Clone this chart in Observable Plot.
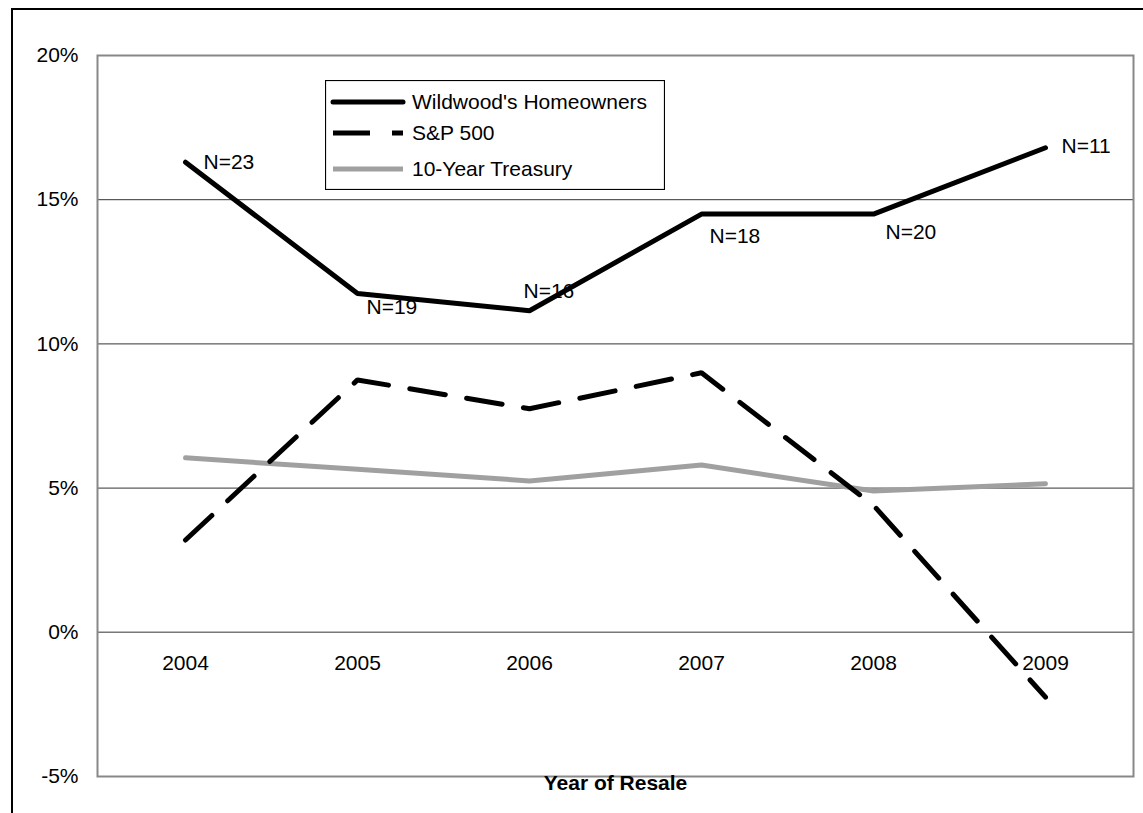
<!DOCTYPE html>
<html><head><meta charset="utf-8">
<script src="https://cdn.jsdelivr.net/npm/d3@7"></script>
<script src="https://cdn.jsdelivr.net/npm/@observablehq/plot@0.6"></script>
<style>
html,body{margin:0;padding:0;background:#fff;overflow:hidden;width:1143px;height:813px;}
#wrap{position:relative;width:1143px;height:813px;background:#fff;font-family:"Liberation Sans",Arial,sans-serif;}
#frame{position:absolute;left:11px;top:8px;width:1200px;height:900px;border:2.5px solid #000;box-sizing:border-box;}
#chart{position:absolute;left:0;top:0;}
#legend{position:absolute;left:325px;top:80px;width:340px;height:110px;}
</style></head><body>
<div id="wrap"><div id="frame"></div><div id="chart"></div><div id="legend"></div></div>
<script>
const years = ["2004","2005","2006","2007","2008","2009"];
const wildwood = [16.3, 11.75, 11.15, 14.5, 14.5, 16.8];
const sp500 = [3.2, 8.75, 7.75, 9.0, 4.4, -2.25];
const treasury = [6.05, 5.65, 5.25, 5.8, 4.9, 5.15];
const sampleSizes = ["N=23","N=19","N=16","N=18","N=20","N=11"];
const yTicks = [-5, 0, 5, 10, 15, 20];
const seriesNames = ["Wildwood's Homeowners", "S&P 500", "10-Year Treasury"];

// layout only: label offsets (px) relative to each Wildwood point
const labelOffsets = [[18,0],[9,14],[-6,-19],[8,22],[12,18],[16,-2]];

const toRows = vals => years.map((yr, i) => ({year: yr, value: vals[i], i}));
const wRows = toRows(wildwood), sRows = toRows(sp500), tRows = toRows(treasury);

const FS = 21;
const labelMarks = wRows.map((r, i) => Plot.text([r], {
  x: "year", y: "value", text: d => sampleSizes[d.i],
  textAnchor: "start", dx: labelOffsets[i][0], dy: labelOffsets[i][1],
  fontSize: FS, fill: "#000"
}));

const chart = Plot.plot({
  width: 1143, height: 813,
  marginLeft: 97, marginRight: 10, marginTop: 55, marginBottom: 37,
  style: {fontFamily: "'Liberation Sans', Arial, sans-serif", fontSize: FS + "px", background: "transparent", color: "#000"},
  x: {type: "point", domain: years, padding: 0.5, axis: null},
  y: {domain: [-5, 20], label: null},
  marks: [
    Plot.ruleY([5, 10, 15], {stroke: "#333", strokeWidth: 1}),
    Plot.ruleY([0], {stroke: "#777", strokeWidth: 1.5}),
    Plot.frame({stroke: "#888", strokeWidth: 2}),
    Plot.axisY(yTicks, {tickFormat: d => d + "%", tickSize: 0, tickPadding: 19, fontSize: FS, fill: "#000", label: null}),
    Plot.text(years, {x: d => d, y: () => 0, dy: 31, fontSize: FS, fill: "#000"}),
    Plot.text(["Year of Resale"], {frameAnchor: "bottom", dy: 13, fontSize: 21, fontWeight: "bold", fill: "#000", letterSpacing: "0.6px"}),
    Plot.line(tRows, {x: "year", y: "value", stroke: "#a0a0a0", strokeWidth: 5, strokeLinejoin: "miter"}),
    Plot.line(sRows, {x: "year", y: "value", stroke: "#000", strokeWidth: 5, strokeDasharray: "36,21.6", strokeLinejoin: "miter"}),
    Plot.line(wRows, {x: "year", y: "value", stroke: "#000", strokeWidth: 5, strokeLinejoin: "miter", strokeLinecap: "round"}),
    ...labelMarks
  ]
});
document.getElementById("chart").append(chart);

// legend
const LW = 340, LH = 110;
const lg = d3.select("#legend").append("svg").attr("width", LW).attr("height", LH)
  .style("font-family", "'Liberation Sans', Arial, sans-serif");
lg.append("rect").attr("x", 0.5).attr("y", 0.5).attr("width", LW - 1).attr("height", LH - 1)
  .attr("fill", "#fff").attr("stroke", "#000").attr("stroke-width", 1.2);
const styles = [
  {stroke: "#000", dash: null, cap: "round"},
  {stroke: "#000", dash: "37,22", cap: "butt"},
  {stroke: "#a0a0a0", dash: null, cap: "butt"}
];
const rowsY = [22, 53, 89];
seriesNames.forEach((name, i) => {
  const l = lg.append("line").attr("x1", 8).attr("x2", 78).attr("y1", rowsY[i]).attr("y2", rowsY[i])
    .attr("stroke", styles[i].stroke).attr("stroke-width", 5).attr("stroke-linecap", styles[i].cap);
  if (styles[i].dash) l.attr("stroke-dasharray", styles[i].dash);
  lg.append("text").attr("x", 87).attr("y", rowsY[i]).attr("dy", "0.35em")
    .attr("font-size", FS).attr("fill", "#000").text(name);
});
</script>
</body></html>
